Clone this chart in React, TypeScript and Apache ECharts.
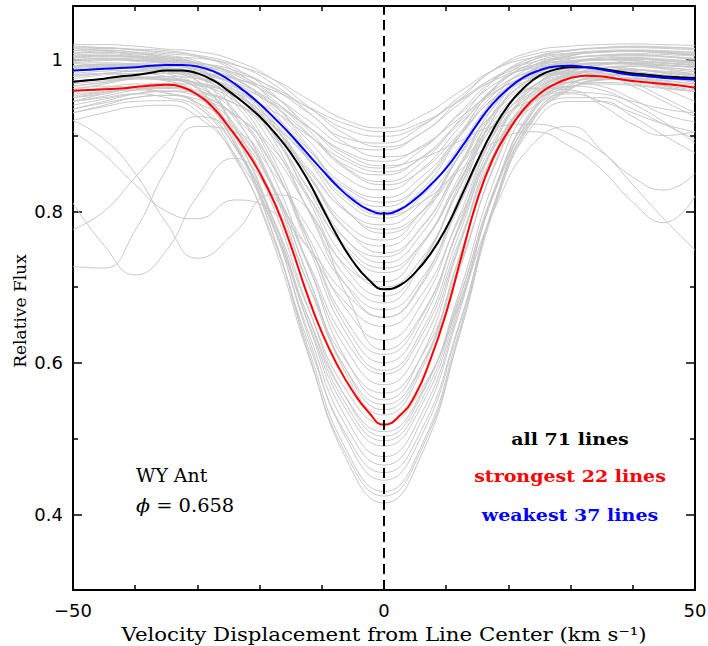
import React, { useEffect, useRef } from "react";
import * as echarts from "echarts";

// Velocity grid (km/s) used for the individual gray line profiles
const velocityGrid = [-50, -45, -40, -35, -30, -24, -18, -12, -6, 0, 6, 12, 18, 24, 30, 35, 40, 45, 50];

// Individual line profiles (relative flux)
const grayProfiles: number[][] = [
  [1.008, 1.012, 1.010, 1.004, 1.002, 0.993, 0.975, 0.947, 0.920, 0.910, 0.926, 0.957, 0.988, 1.003, 1.009, 1.012, 1.013, 1.012, 1.010],
  [0.978, 0.982, 0.985, 0.985, 0.983, 0.975, 0.960, 0.937, 0.915, 0.905, 0.917, 0.945, 0.974, 0.989, 0.994, 0.996, 0.995, 0.993, 0.990],
  [0.998, 1.000, 0.998, 0.995, 0.992, 0.983, 0.964, 0.936, 0.908, 0.899, 0.914, 0.946, 0.977, 0.993, 0.999, 1.002, 1.003, 1.001, 0.998],
  [1.015, 1.012, 1.006, 1.002, 0.996, 0.986, 0.963, 0.929, 0.896, 0.890, 0.912, 0.950, 0.988, 1.007, 1.013, 1.016, 1.017, 1.016, 1.015],
  [1.020, 1.020, 1.018, 1.014, 1.011, 0.999, 0.975, 0.937, 0.901, 0.885, 0.903, 0.946, 0.989, 1.011, 1.018, 1.020, 1.021, 1.020, 1.019],
  [0.985, 0.990, 0.993, 0.992, 0.988, 0.976, 0.953, 0.919, 0.887, 0.881, 0.903, 0.941, 0.978, 0.997, 1.003, 1.006, 1.008, 1.007, 1.005],
  [1.018, 1.016, 1.013, 1.010, 1.006, 0.994, 0.969, 0.930, 0.889, 0.872, 0.884, 0.927, 0.969, 0.991, 0.998, 1.000, 0.999, 0.996, 0.994],
  [0.960, 0.968, 0.975, 0.978, 0.975, 0.964, 0.943, 0.910, 0.878, 0.866, 0.886, 0.922, 0.959, 0.977, 0.983, 0.982, 0.970, 0.950, 0.930],
  [1.005, 1.006, 1.004, 1.000, 0.996, 0.982, 0.954, 0.911, 0.870, 0.857, 0.881, 0.929, 0.976, 1.000, 1.008, 1.011, 1.012, 1.011, 1.010],
  [0.950, 0.957, 0.965, 0.969, 0.966, 0.956, 0.933, 0.899, 0.866, 0.852, 0.870, 0.914, 0.958, 0.980, 0.988, 0.990, 0.985, 0.978, 0.970],
  [0.990, 0.992, 0.990, 0.987, 0.981, 0.968, 0.941, 0.900, 0.860, 0.848, 0.871, 0.917, 0.962, 0.985, 0.993, 0.996, 0.994, 0.990, 0.986],
  [1.012, 1.015, 1.014, 1.012, 1.005, 0.989, 0.956, 0.906, 0.857, 0.839, 0.864, 0.919, 0.975, 1.003, 1.012, 1.016, 1.018, 1.017, 1.015],
  [1.004, 1.006, 1.003, 0.998, 0.995, 0.980, 0.949, 0.901, 0.855, 0.835, 0.854, 0.902, 0.950, 0.974, 0.983, 0.985, 0.983, 0.979, 0.975],
  [0.999, 1.002, 1.001, 0.998, 0.990, 0.974, 0.942, 0.892, 0.844, 0.828, 0.855, 0.910, 0.965, 0.993, 1.002, 1.006, 1.007, 1.005, 1.002],
  [0.970, 0.975, 0.980, 0.982, 0.975, 0.960, 0.928, 0.880, 0.833, 0.818, 0.845, 0.898, 0.952, 0.978, 0.985, 0.983, 0.975, 0.965, 0.958],
  [0.935, 0.945, 0.955, 0.959, 0.956, 0.942, 0.914, 0.871, 0.830, 0.812, 0.836, 0.897, 0.957, 0.987, 0.997, 1.000, 1.001, 0.998, 0.995],
  [1.003, 1.005, 1.004, 1.002, 0.994, 0.976, 0.938, 0.881, 0.825, 0.806, 0.837, 0.901, 0.964, 0.996, 1.007, 1.010, 1.011, 1.010, 1.008],
  [1.016, 1.016, 1.013, 1.008, 1.004, 0.985, 0.945, 0.884, 0.825, 0.800, 0.828, 0.897, 0.966, 1.000, 1.012, 1.015, 1.016, 1.015, 1.013],
  [0.985, 0.988, 0.990, 0.989, 0.984, 0.966, 0.927, 0.869, 0.812, 0.791, 0.819, 0.884, 0.949, 0.981, 0.992, 0.995, 0.994, 0.992, 0.990],
  [0.945, 0.952, 0.960, 0.964, 0.959, 0.942, 0.907, 0.852, 0.800, 0.782, 0.811, 0.872, 0.932, 0.962, 0.960, 0.940, 0.915, 0.900, 0.905],
  [0.972, 0.974, 0.975, 0.973, 0.969, 0.951, 0.913, 0.855, 0.799, 0.776, 0.799, 0.858, 0.917, 0.947, 0.957, 0.955, 0.945, 0.935, 0.930],
  [1.012, 1.013, 1.010, 1.006, 0.998, 0.977, 0.933, 0.866, 0.801, 0.771, 0.798, 0.872, 0.947, 0.984, 0.997, 1.000, 1.001, 0.999, 0.996],
  [0.978, 0.982, 0.985, 0.986, 0.978, 0.957, 0.914, 0.847, 0.783, 0.762, 0.799, 0.873, 0.947, 0.984, 0.997, 1.000, 0.995, 0.988, 0.980],
  [1.000, 1.002, 1.000, 0.996, 0.987, 0.965, 0.917, 0.845, 0.775, 0.754, 0.792, 0.872, 0.952, 0.992, 1.006, 1.010, 1.011, 1.009, 1.006],
  [0.996, 0.999, 1.000, 0.997, 0.992, 0.969, 0.921, 0.847, 0.776, 0.745, 0.778, 0.860, 0.941, 0.982, 0.996, 1.000, 1.001, 0.999, 0.996],
  [0.965, 0.970, 0.975, 0.976, 0.968, 0.946, 0.900, 0.829, 0.761, 0.740, 0.779, 0.856, 0.934, 0.973, 0.986, 0.990, 0.988, 0.983, 0.978],
  [1.006, 1.008, 1.005, 1.000, 0.992, 0.968, 0.916, 0.838, 0.762, 0.732, 0.770, 0.856, 0.943, 0.986, 1.001, 1.005, 1.006, 1.004, 1.000],
  [0.930, 0.940, 0.950, 0.953, 0.948, 0.927, 0.884, 0.817, 0.753, 0.725, 0.757, 0.837, 0.917, 0.957, 0.971, 0.975, 0.972, 0.966, 0.960],
  [0.992, 0.994, 0.993, 0.990, 0.982, 0.957, 0.905, 0.826, 0.749, 0.719, 0.757, 0.844, 0.932, 0.976, 0.991, 0.995, 0.996, 0.993, 0.990],
  [0.940, 0.948, 0.955, 0.958, 0.952, 0.928, 0.878, 0.801, 0.727, 0.707, 0.754, 0.839, 0.924, 0.966, 0.981, 0.980, 0.965, 0.945, 0.925],
  [0.990, 0.993, 0.995, 0.992, 0.986, 0.960, 0.904, 0.818, 0.735, 0.700, 0.737, 0.828, 0.919, 0.965, 0.981, 0.985, 0.986, 0.984, 0.980],
  [1.010, 1.010, 1.008, 1.004, 0.995, 0.967, 0.906, 0.813, 0.723, 0.688, 0.732, 0.834, 0.936, 0.988, 1.005, 1.010, 1.011, 1.009, 1.006],
  [0.982, 0.985, 0.986, 0.984, 0.976, 0.948, 0.889, 0.799, 0.712, 0.679, 0.730, 0.829, 0.929, 0.978, 0.995, 1.000, 0.999, 0.996, 0.993],
  [0.727, 0.725, 0.775, 0.855, 0.912, 0.905, 0.853, 0.776, 0.702, 0.670, 0.710, 0.807, 0.905, 0.954, 0.970, 0.975, 0.974, 0.970, 0.966],
  [1.008, 1.010, 1.008, 1.002, 0.995, 0.964, 0.898, 0.798, 0.701, 0.660, 0.705, 0.817, 0.929, 0.985, 1.005, 1.010, 1.012, 1.010, 1.007],
  [0.905, 0.875, 0.835, 0.800, 0.790, 0.815, 0.800, 0.750, 0.690, 0.660, 0.702, 0.806, 0.910, 0.962, 0.980, 0.985, 0.984, 0.980, 0.975],
  [0.811, 0.755, 0.716, 0.748, 0.820, 0.870, 0.822, 0.749, 0.678, 0.648, 0.689, 0.788, 0.888, 0.938, 0.955, 0.945, 0.930, 0.915, 0.905],
  [0.945, 0.955, 0.962, 0.962, 0.955, 0.925, 0.861, 0.764, 0.670, 0.630, 0.677, 0.792, 0.907, 0.965, 0.985, 0.990, 0.988, 0.982, 0.975],
  [0.920, 0.895, 0.850, 0.785, 0.738, 0.772, 0.822, 0.800, 0.690, 0.617, 0.663, 0.776, 0.889, 0.945, 0.965, 0.968, 0.966, 0.962, 0.958],
  [0.968, 0.972, 0.975, 0.974, 0.964, 0.931, 0.862, 0.757, 0.655, 0.611, 0.660, 0.779, 0.899, 0.959, 0.979, 0.985, 0.978, 0.962, 0.945],
  [0.998, 1.000, 0.999, 0.995, 0.983, 0.948, 0.873, 0.758, 0.647, 0.600, 0.652, 0.780, 0.908, 0.972, 0.994, 1.000, 1.002, 1.000, 0.997],
  [0.992, 0.994, 0.992, 0.986, 0.978, 0.942, 0.866, 0.750, 0.638, 0.590, 0.641, 0.768, 0.894, 0.957, 0.979, 0.985, 0.986, 0.983, 0.980],
  [0.776, 0.800, 0.845, 0.890, 0.925, 0.902, 0.833, 0.729, 0.628, 0.585, 0.635, 0.758, 0.881, 0.943, 0.964, 0.970, 0.968, 0.963, 0.958],
  [0.935, 0.943, 0.950, 0.953, 0.943, 0.909, 0.836, 0.725, 0.617, 0.571, 0.624, 0.753, 0.882, 0.947, 0.965, 0.960, 0.942, 0.918, 0.890],
  [0.970, 0.975, 0.977, 0.975, 0.967, 0.909, 0.821, 0.701, 0.601, 0.560, 0.608, 0.725, 0.864, 0.951, 0.984, 0.993, 0.995, 0.993, 0.990],
  [0.990, 0.992, 0.990, 0.985, 0.972, 0.933, 0.850, 0.725, 0.603, 0.551, 0.609, 0.751, 0.893, 0.964, 0.988, 0.995, 0.996, 0.993, 0.990],
  [1.002, 1.004, 1.003, 0.999, 0.991, 0.927, 0.832, 0.700, 0.590, 0.545, 0.596, 0.720, 0.867, 0.959, 0.993, 1.003, 1.005, 1.004, 1.001],
  [0.952, 0.958, 0.963, 0.964, 0.952, 0.914, 0.833, 0.709, 0.589, 0.538, 0.595, 0.737, 0.878, 0.949, 0.970, 0.965, 0.948, 0.928, 0.918],
  [0.980, 0.982, 0.978, 0.975, 0.962, 0.922, 0.837, 0.709, 0.584, 0.531, 0.590, 0.735, 0.881, 0.953, 0.978, 0.985, 0.983, 0.978, 0.972],
  [0.945, 0.950, 0.955, 0.950, 0.938, 0.885, 0.794, 0.668, 0.563, 0.520, 0.565, 0.676, 0.807, 0.889, 0.912, 0.880, 0.835, 0.790, 0.749],
  [0.920, 0.930, 0.938, 0.940, 0.925, 0.875, 0.784, 0.657, 0.553, 0.509, 0.560, 0.684, 0.832, 0.924, 0.950, 0.950, 0.935, 0.915, 0.895],
  [0.995, 0.996, 0.994, 0.988, 0.972, 0.912, 0.810, 0.669, 0.552, 0.503, 0.557, 0.690, 0.847, 0.946, 0.983, 0.994, 0.997, 0.995, 0.992],
  [0.950, 0.955, 0.962, 0.964, 0.956, 0.890, 0.792, 0.656, 0.544, 0.497, 0.550, 0.681, 0.835, 0.932, 0.968, 0.978, 0.980, 0.976, 0.970],
  [0.962, 0.965, 0.963, 0.956, 0.943, 0.885, 0.786, 0.650, 0.537, 0.490, 0.543, 0.674, 0.829, 0.926, 0.963, 0.974, 0.976, 0.973, 0.968],
  [0.975, 0.980, 0.982, 0.978, 0.962, 0.899, 0.794, 0.647, 0.526, 0.476, 0.532, 0.669, 0.832, 0.934, 0.972, 0.984, 0.987, 0.985, 0.982],
  [0.958, 0.963, 0.968, 0.968, 0.952, 0.889, 0.783, 0.637, 0.515, 0.465, 0.523, 0.664, 0.832, 0.937, 0.977, 0.989, 0.991, 0.988, 0.984],
  [0.930, 0.938, 0.945, 0.946, 0.932, 0.871, 0.767, 0.623, 0.504, 0.455, 0.511, 0.649, 0.812, 0.914, 0.945, 0.945, 0.925, 0.900, 0.877],
  [0.992, 0.994, 0.993, 0.988, 0.979, 0.903, 0.788, 0.630, 0.499, 0.445, 0.503, 0.646, 0.816, 0.922, 0.962, 0.973, 0.975, 0.972, 0.968],
  [0.972, 0.975, 0.976, 0.972, 0.955, 0.888, 0.773, 0.615, 0.484, 0.430, 0.490, 0.639, 0.815, 0.925, 0.966, 0.979, 0.981, 0.978, 0.974],
  [0.955, 0.958, 0.960, 0.956, 0.940, 0.874, 0.762, 0.606, 0.478, 0.424, 0.485, 0.633, 0.810, 0.920, 0.961, 0.974, 0.975, 0.970, 0.963],
  [0.988, 0.990, 0.988, 0.982, 0.964, 0.894, 0.774, 0.609, 0.472, 0.415, 0.478, 0.633, 0.817, 0.932, 0.976, 0.989, 0.992, 0.990, 0.986],
  [0.990, 0.992, 0.990, 0.986, 0.982, 0.970, 0.946, 0.910, 0.875, 0.860, 0.870, 0.892, 0.912, 0.915, 0.902, 0.878, 0.845, 0.828, 0.850],
  [0.965, 0.970, 0.975, 0.974, 0.970, 0.953, 0.919, 0.867, 0.817, 0.795, 0.812, 0.853, 0.892, 0.905, 0.885, 0.855, 0.812, 0.785, 0.820],
];

// Mean profiles, read every 2.5 km/s
const meanVelocity = [
  -50, -47.5, -45, -42.5, -40, -37.5, -35, -32.5, -30, -27.5, -25, -22.5, -20, -17.5, -15, -12.5, -10, -7.5, -5, -2.5, 0,
  2.5, 5, 7.5, 10, 12.5, 15, 17.5, 20, 22.5, 25, 27.5, 30, 32.5, 35, 37.5, 40, 42.5, 45, 47.5, 50,
];
const allLinesFlux = [
  0.971, 0.973, 0.975, 0.978, 0.980, 0.983, 0.986, 0.986, 0.982, 0.973, 0.959, 0.943, 0.925, 0.903, 0.877, 0.845, 0.806, 0.767, 0.734, 0.710, 0.697,
  0.702, 0.719, 0.744, 0.778, 0.821, 0.866, 0.907, 0.940, 0.963, 0.979, 0.987, 0.990, 0.990, 0.988, 0.985, 0.982, 0.980, 0.978, 0.977, 0.976,
];
const strongestFlux = [
  0.959, 0.960, 0.961, 0.962, 0.964, 0.966, 0.967, 0.964, 0.954, 0.937, 0.912, 0.884, 0.851, 0.809, 0.755, 0.694, 0.640, 0.597, 0.562, 0.535, 0.518,
  0.530, 0.557, 0.605, 0.666, 0.742, 0.815, 0.869, 0.906, 0.935, 0.955, 0.968, 0.976, 0.979, 0.978, 0.975, 0.972, 0.970, 0.968, 0.966, 0.963,
];
const weakestFlux = [
  0.986, 0.987, 0.988, 0.989, 0.990, 0.992, 0.993, 0.993, 0.991, 0.985, 0.974, 0.959, 0.942, 0.922, 0.901, 0.878, 0.855, 0.833, 0.815, 0.802, 0.797,
  0.802, 0.816, 0.835, 0.857, 0.885, 0.915, 0.942, 0.962, 0.977, 0.986, 0.991, 0.992, 0.990, 0.987, 0.983, 0.980, 0.978, 0.976, 0.975, 0.974,
];

const legendLabels = ["all 71 lines", "strongest 22 lines", "weakest 37 lines"];
const legendColors = ["#000000", "#ff0000", "#0000ff"];
const starName = "WY Ant";
const phaseText = "0.658";
const xTitle = "Velocity Displacement from Line Center (km s\u207B\u00B9)";
const yTitle = "Relative Flux";

export default function App() {
  const ref = useRef<HTMLDivElement>(null);

  useEffect(() => {
    const chart = echarts.init(ref.current!, null, { renderer: "svg" });
    const pairs = (xs: number[], ys: number[]) => xs.map((x, i) => [x, ys[i]]);

    const graySeries = grayProfiles.map((row, k) => ({
      type: "line",
      name: "line " + (k + 1),
      data: pairs(velocityGrid, row),
      smooth: true,
      symbol: "none",
      silent: true,
      lineStyle: { color: "#c8c8c8", width: 1 },
      z: 2,
    }));

    const frameLine = { show: true, onZero: false, lineStyle: { color: "#000", width: 2 } };
    const tickLabel = { fontFamily: "DejaVu Sans", fontSize: 18, color: "#000" };
    const majorTick = { show: true, inside: true, length: 9, lineStyle: { color: "#000", width: 1.5 } };

    const xBase = {
      type: "value",
      min: -50,
      max: 50,
      interval: 50,
      axisLine: frameLine,
      axisTick: majorTick,
      minorTick: { show: true, splitNumber: 5, length: 5, lineStyle: { color: "#000", width: 1.5 } },
      splitLine: { show: false },
      minorSplitLine: { show: false },
    };
    const yBase = {
      type: "value",
      min: 0.3,
      max: 1.071,
      splitNumber: 4,
      axisLine: frameLine,
      axisTick: majorTick,
      minorTick: { show: true, splitNumber: 2, length: 5, lineStyle: { color: "#000", width: 1.5 } },
      splitLine: { show: false },
      minorSplitLine: { show: false },
    };

    const yFmt = (v: number) => {
      const r = Math.round(v * 10);
      if (Math.abs(v * 10 - r) > 1e-6 || r % 2 !== 0) return "";
      return r === 10 ? "1" : (r / 10).toFixed(1);
    };

    const mainSeries = (name: string, ys: number[], color: string, z: number, extra: any = {}) => ({
      type: "line",
      name,
      data: pairs(meanVelocity, ys),
      smooth: true,
      symbol: "none",
      lineStyle: { color, width: 2 },
      z,
      ...extra,
    });

    const option: any = {
      animation: false,
      backgroundColor: "#ffffff",
      grid: { left: 73, right: 13, top: 6, bottom: 56, containLabel: false, outerBoundsMode: "none" },
      xAxis: [
        {
          ...xBase,
          position: "bottom",
          axisLabel: { ...tickLabel, margin: 11, formatter: (v: number) => (v < 0 ? "\u2212" + Math.abs(v) : String(v)) },
        },
        { ...xBase, position: "top", axisLabel: { show: false } },
      ],
      yAxis: [
        { ...yBase, position: "left", axisLabel: { ...tickLabel, margin: 10, formatter: yFmt } },
        { ...yBase, position: "right", axisLabel: { show: false } },
      ],
      series: [
        ...graySeries,
        mainSeries("strongest", strongestFlux, legendColors[1], 3),
        mainSeries("all", allLinesFlux, legendColors[0], 3),
        mainSeries("weakest", weakestFlux, legendColors[2], 4, {
          markLine: {
            silent: true,
            symbol: "none",
            label: { show: false },
            lineStyle: { color: "#000", width: 2, type: [10, 6] },
            data: [{ xAxis: 0 }],
            z: 5,
          },
        }),
      ],
      graphic: [
        {
          type: "text",
          x: 384,
          y: 634,
          scaleX: 1.12,
          style: { text: xTitle, font: "19px 'DejaVu Serif'", fill: "#000", align: "center", verticalAlign: "middle" },
        },
        {
          type: "text",
          x: 20,
          y: 311,
          rotation: Math.PI / 2,
          style: { text: yTitle, font: "17px 'DejaVu Serif'", fill: "#000", align: "center", verticalAlign: "middle" },
        },
        {
          type: "text",
          x: 136,
          y: 476,
          scaleX: 1.05,
          style: { text: starName, font: "18px 'DejaVu Serif'", fill: "#000", align: "left", verticalAlign: "middle" },
        },
        {
          type: "text",
          x: 136,
          y: 506,
          scaleX: 1.08,
          style: {
            text: "{p|\u03D5} = " + phaseText,
            font: "18px 'DejaVu Serif'",
            fill: "#000",
            align: "left",
            verticalAlign: "middle",
            rich: { p: { font: "italic 19px 'DejaVu Serif'", fill: "#000" } },
          },
        },
        ...legendLabels.map((t, i) => ({
          type: "text",
          x: 570,
          y: [439, 476, 515][i],
          scaleX: 1.12,
          style: { text: t, font: "bold 17px 'DejaVu Serif'", fill: legendColors[i], align: "center", verticalAlign: "middle" },
        })),
      ],
    };

    chart.setOption(option);
    return () => chart.dispose();
  }, []);

  return <div ref={ref} style={{ position: "fixed", left: 0, top: 0, width: 708, height: 646, background: "#fff" }} />;
}
